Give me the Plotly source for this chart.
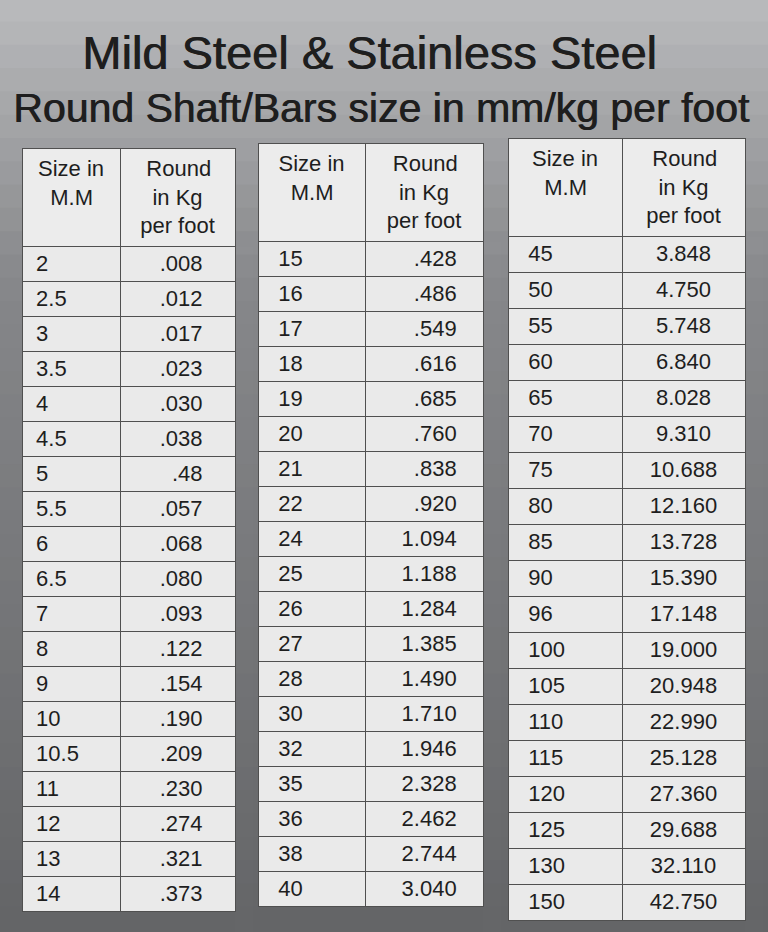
import plotly.graph_objects as go

# table data, read from the sign
size_1 = ["2", "2.5", "3", "3.5", "4", "4.5", "5", "5.5", "6", "6.5",
          "7", "8", "9", "10", "10.5", "11", "12", "13", "14"]
kg_1 = [".008", ".012", ".017", ".023", ".030", ".038", ".48", ".057", ".068", ".080",
        ".093", ".122", ".154", ".190", ".209", ".230", ".274", ".321", ".373"]

size_2 = ["15", "16", "17", "18", "19", "20", "21", "22", "24", "25",
          "26", "27", "28", "30", "32", "35", "36", "38", "40"]
kg_2 = [".428", ".486", ".549", ".616", ".685", ".760", ".838", ".920", "1.094", "1.188",
        "1.284", "1.385", "1.490", "1.710", "1.946", "2.328", "2.462", "2.744", "3.040"]

size_3 = ["45", "50", "55", "60", "65", "70", "75", "80", "85", "90",
          "96", "100", "105", "110", "115", "120", "125", "130", "150"]
kg_3 = ["3.848", "4.750", "5.748", "6.840", "8.028", "9.310", "10.688", "12.160", "13.728", "15.390",
        "17.148", "19.000", "20.948", "22.990", "25.128", "27.360", "29.688", "32.110", "42.750"]

NB = "\u00a0"
# plotly keeps <br> lines left-aligned inside the block, so pad short lines to centre them
headers = ["Size in<br>" + NB * 2 + "M.M", NB + "Round<br>" + NB * 2 + "in Kg<br>per foot"]

W, H = 768, 932
FONT = "Liberation Sans, Arial, sans-serif"
INK = "#1e1e1e"


def make_table(sizes, kgs, x0, x1, top, widths, hdr_h, row_h, kg_align, lpad, rpad):
    return go.Table(
        domain=dict(x=[x0 / W, x1 / W], y=[0, 1 - top / H]),
        columnwidth=widths,
        header=dict(
            values=headers,
            align="center",
            height=hdr_h,
            fill_color="#ececec",
            line=dict(color="#505050", width=1),
            font=dict(family=FONT, size=22, color=INK),
        ),
        cells=dict(
            values=[[NB * lpad + s for s in sizes], [k + NB * rpad for k in kgs]],
            align=["left", kg_align],
            height=row_h,
            fill_color="#eaeaea",
            line=dict(color="#505050", width=1),
            font=dict(family=FONT, size=22, color=INK),
        ),
    )


fig = go.Figure()
fig.add_trace(make_table(size_1, kg_1, 22, 235, 148, [98, 115], 95, 35, "right", 1, 4))
fig.add_trace(make_table(size_2, kg_2, 258, 483, 143, [107, 118], 98, 35, "right", 2, 3))
fig.add_trace(make_table(size_3, kg_3, 508, 745, 138, [114, 123], 96, 36, "center", 2, 0))

# grey backdrop of the photo, lighter at the top, darker lower down
n = 40
top_c, mid_c, bot_c = (184, 185, 187), (134, 135, 138), (100, 101, 103)
for i in range(n):
    t = i / (n - 1)
    if t < 0.3:
        a, b, u = top_c, mid_c, t / 0.3
    else:
        a, b, u = mid_c, bot_c, (t - 0.3) / 0.7
    c = tuple(round(a[k] + (b[k] - a[k]) * u) for k in range(3))
    fig.add_shape(type="rect", xref="paper", yref="paper",
                  x0=0, x1=1, y0=1 - (i + 1) / n, y1=1 - i / n + 0.002,
                  fillcolor="rgb(%d,%d,%d)" % c, line_width=0, layer="below")

fig.add_annotation(text="Mild Steel & Stainless Steel", x=369 / W, y=1 - 52 / H,
                   xref="paper", yref="paper", showarrow=False, yanchor="middle",
                   font=dict(family=FONT, size=47, color=INK, shadow="0.8px 0 0 #1e1e1e"))
fig.add_annotation(text="Round Shaft/Bars size in mm/kg per foot", x=381 / W, y=1 - 108 / H,
                   xref="paper", yref="paper", showarrow=False, yanchor="middle",
                   font=dict(family=FONT, size=41, color=INK, shadow="0.8px 0 0 #1e1e1e"))

fig.update_layout(
    width=W, height=H,
    margin=dict(l=0, r=0, t=0, b=0),
    paper_bgcolor="#8d8e91",
    plot_bgcolor="#8d8e91",
)

fig.write_html("out.html", config={"displayModeBar": False},
               post_script="document.body.style.margin='0';")
